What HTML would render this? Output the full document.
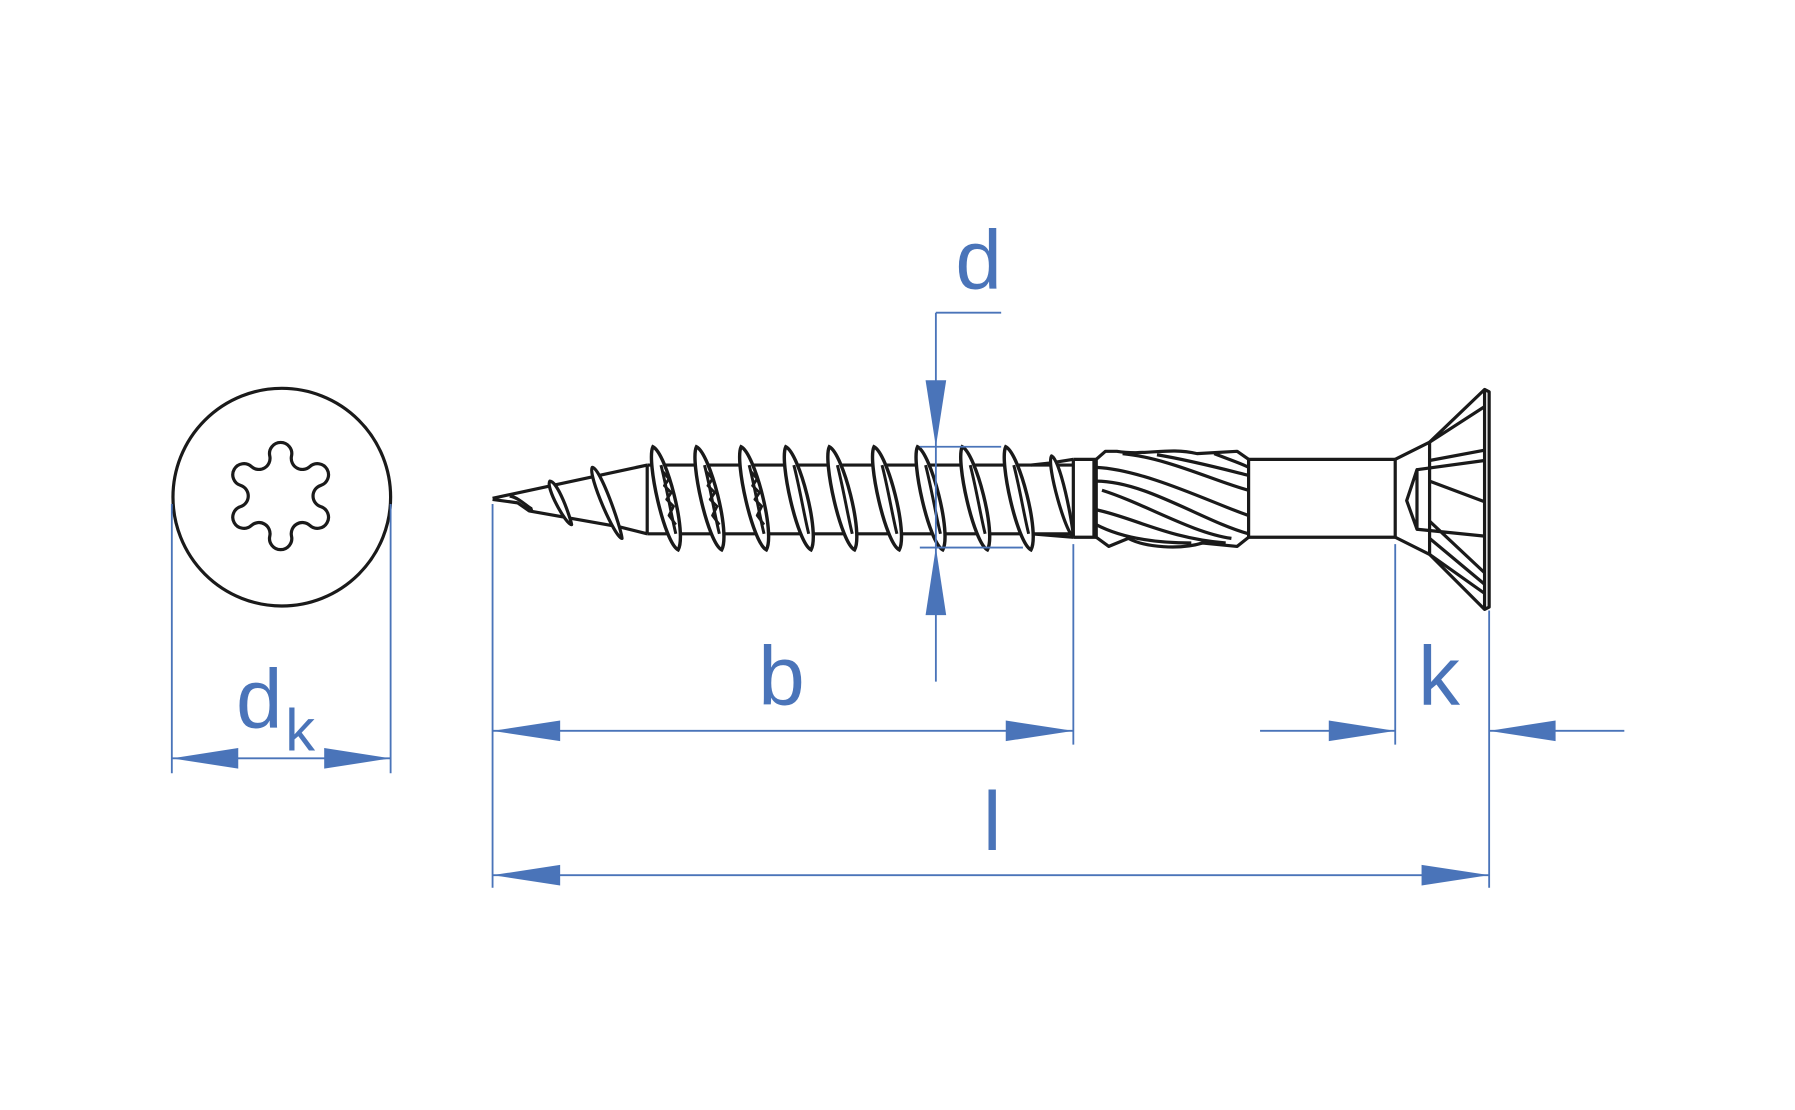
<!DOCTYPE html>
<html><head><style>html,body{margin:0;padding:0;background:#fff}svg{display:block}</style></head>
<body>
<svg width="1795" height="1110" viewBox="0 0 1567 969" preserveAspectRatio="none" xmlns="http://www.w3.org/2000/svg">
<defs>
<g id="th">
<path d="M0,390 C12,396 30,466 22,480 C10,474 -6,402 0,390 Z" fill="#fff" stroke="#1a1a1a" stroke-width="3"/>
<path d="M7,406 C12,425 16,450 20,466" fill="none" stroke="#1a1a1a" stroke-width="2.6"/>
</g>
</defs>
<g fill="none" stroke="#1a1a1a" stroke-width="2.8" stroke-linejoin="round">
<circle cx="246" cy="434" r="95"/>
<path d="M235.51,398.07 A9.72,9.72 0 1 1 254.49,398.07 A9.72,9.72 0 0 0 270.51,407.31 A9.72,9.72 0 1 1 280,423.75 A9.72,9.72 0 0 0 280,442.25 A9.72,9.72 0 1 1 270.51,458.69 A9.72,9.72 0 0 0 254.49,468 A9.72,9.72 0 1 1 235.51,468 A9.72,9.72 0 0 0 219.49,458.69 A9.72,9.72 0 1 1 210,442.25 A9.72,9.72 0 0 0 210,423.75 A9.72,9.72 0 1 1 219.49,407.31 A9.72,9.72 0 0 0 235.51,398.07 Z"/>
<path d="M430,435 L565,406 M430,436 L452,439 L462,446 L541,460 L565,466 M565,406 L565,466"/>
<path d="M445,433 C455,435 462,445 465,444"/>
<path d="M480,420 C487,420 498,452 499,458 C494,458 476,425 480,420 Z" fill="#fff"/>
<path d="M517,408 C524,408 542,460 543,470 C537,470 513,415 517,408 Z" fill="#fff"/>
<path d="M565,406 L937,406 M565,466 L937,466"/>
<path d="M900,406 L918,404 L937,401 M900,466 L937,469"/>
<path d="M918,398 C926,402 936,455 937,468 C931,468 913,405 918,398 Z" fill="#fff"/>
</g>
<use href="#th" x="570"/><use href="#th" x="608"/><use href="#th" x="647"/><use href="#th" x="686"/><use href="#th" x="724"/><use href="#th" x="763"/><use href="#th" x="801"/><use href="#th" x="840"/><use href="#th" x="878"/>
<g fill="none" stroke="#1a1a1a" stroke-width="2.8" stroke-linejoin="round">
<path d="M579,412 L584,418 L580,424 L586,430 L582,436 L588,442 L584,450 L590,458 M617,412 L622,418 L618,424 L624,430 L620,436 L626,442 L622,450 L628,458 M656,412 L661,418 L657,424 L663,430 L659,436 L665,442 L661,450 L667,458" stroke-width="2.4"/>
<path d="M937,401 L957,401 M937,469 L957,469 M937,401 L937,469 M955,401 L955,469"/>
<path d="M957,401 L965,394 L975,394 C1000,398 1020,390 1045,396 L1080,394 L1090,401 L1090,469 L1080,477 L1050,474 C1030,480 1000,478 985,470 L968,477 L957,469 Z" fill="#fff"/>
<path d="M957,408 C1000,410 1060,440 1090,450 M957,420 C1000,420 1050,455 1090,466 M962,428 C1000,440 1040,465 1075,470 M957,445 C990,452 1020,470 1070,474 M980,396 C1020,400 1060,420 1090,428 M1010,397 C1040,402 1070,410 1090,415 M957,458 C980,470 1010,474 1040,474 M1060,396 C1070,400 1085,405 1090,408"/>
<path d="M1090,401 L1218,401 M1090,469 L1218,469"/>
<path d="M1218,401 L1218,469 M1218,401 L1248,386 L1296,340 L1300,342 L1300,530 L1296,532 L1248,484 L1218,469 M1248,386 L1248,484 M1296,340 L1296,532"/>
<path d="M1248,386 L1296,355 M1248,484 L1296,518 M1248,402 L1296,393 M1237,410 L1296,402 M1248,420 L1296,438 M1248,455 L1296,500 M1237,462 L1296,468 M1248,470 L1296,510"/>
<path d="M1237,410 L1228,437 L1237,462 Z"/>
</g>
<g stroke="#4a74b9" stroke-width="1.6" fill="none">
<path d="M150,440 L150,675 M341,440 L341,675 M150,662 L341,662"/>
<path d="M817,273 L874,273 M817,273 L817,595 M803,390 L874,390 M803,478 L893,478"/>
<path d="M430,440 L430,775 M937,475 L937,650 M430,638 L937,638"/>
<path d="M1218,475 L1218,650 M1300,533 L1300,775 M1100,638 L1218,638 M1300,638 L1418,638"/>
<path d="M430,764 L1300,764"/>
</g>
<g fill="#4a74b9">
<polygon points="150,662 208,653 208,671"/><polygon points="341,662 283,653 283,671"/>
<polygon points="817,390 808,332 826,332"/><polygon points="817,478 808,537 826,537"/>
<polygon points="430,638 489,629 489,647"/><polygon points="937,638 878,629 878,647"/>
<polygon points="1218,638 1160,629 1160,647"/><polygon points="1300,638 1358,629 1358,647"/>
<polygon points="430,764 489,755 489,773"/><polygon points="1300,764 1241,755 1241,773"/>
<g font-family="Liberation Sans, sans-serif" font-size="73">
<text x="206" y="635">d</text><text x="249" y="655" font-size="52">k</text>
<text x="834" y="252">d</text>
<text x="662" y="615">b</text>
<text x="1238" y="615">k</text>
<text x="858" y="742">l</text>
</g>
</g>
</svg>
</body></html>
